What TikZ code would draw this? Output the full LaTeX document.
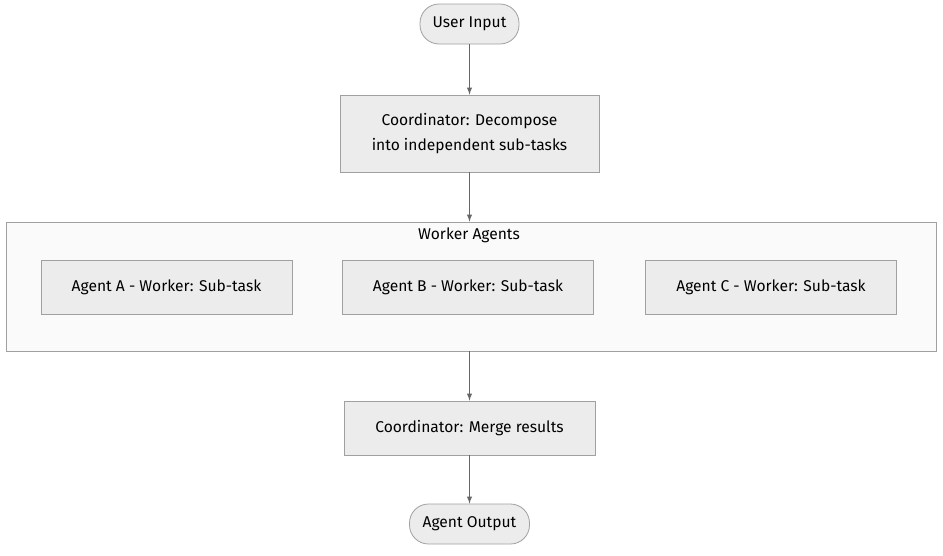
\documentclass[tikz,border=0pt]{standalone}
\usepackage{fontspec}
\setmainfont{Fira Sans}
\usetikzlibrary{positioning, arrows}

\definecolor{boxfill}{HTML}{ECECEC}
\definecolor{boxline}{HTML}{A0A0A0}
\definecolor{groupfill}{HTML}{FAFAFA}
\definecolor{flowline}{HTML}{666666}

\tikzset{
    task/.style={draw=boxline, fill=boxfill, line width=0.8pt, align=center,
        minimum width=251pt, minimum height=54pt, inner sep=0pt},
    terminal/.style={draw=boxline, fill=boxfill, line width=0.8pt,
        rounded corners=19pt, minimum height=40pt, inner sep=0pt},
    group/.style={draw=boxline, fill=groupfill, line width=0.8pt,
        minimum width=930pt, minimum height=129pt, inner sep=0pt},
    flow/.style={->, draw=flowline, line width=1.4pt}
}

\begin{document}
\begin{tikzpicture}[x=1pt, y=-1pt, on grid, >=latex,
    every node/.style={font=\fontsize{15.6}{25}\selectfont}]
    \useasboundingbox (0,0) rectangle (943,555);

    \node[terminal, minimum width=99pt] (input) at (469.5,24) {User Input};
    \node[task, minimum width=259pt, minimum height=77pt] (decompose) [below=109.5pt of input]
        {Coordinator: Decompose\\into independent sub-tasks};

    % worker cluster
    \node[group] (workers) at (471,286.5) {};
    \node (wlabel) at (469,235) {Worker Agents};
    \node[task] (agentB) at (468,287) {Agent B - Worker: Sub-task};
    \node[task] (agentA) [left=301.5pt of agentB] {Agent A - Worker: Sub-task};
    \node[task] (agentC) [right=303pt of agentB] {Agent C - Worker: Sub-task};

    \node[task] (merge) [below=294.5pt of decompose] {Coordinator: Merge results};
    \node[terminal, minimum width=120pt] (output) [below=96pt of merge] {Agent Output};

    \draw[flow] (input) -- (decompose);
    \draw[flow] (decompose) -- (decompose |- workers.north);
    \draw[flow] (workers.south -| merge) -- (merge);
    \draw[flow] (merge) -- (output);
\end{tikzpicture}
\end{document}
